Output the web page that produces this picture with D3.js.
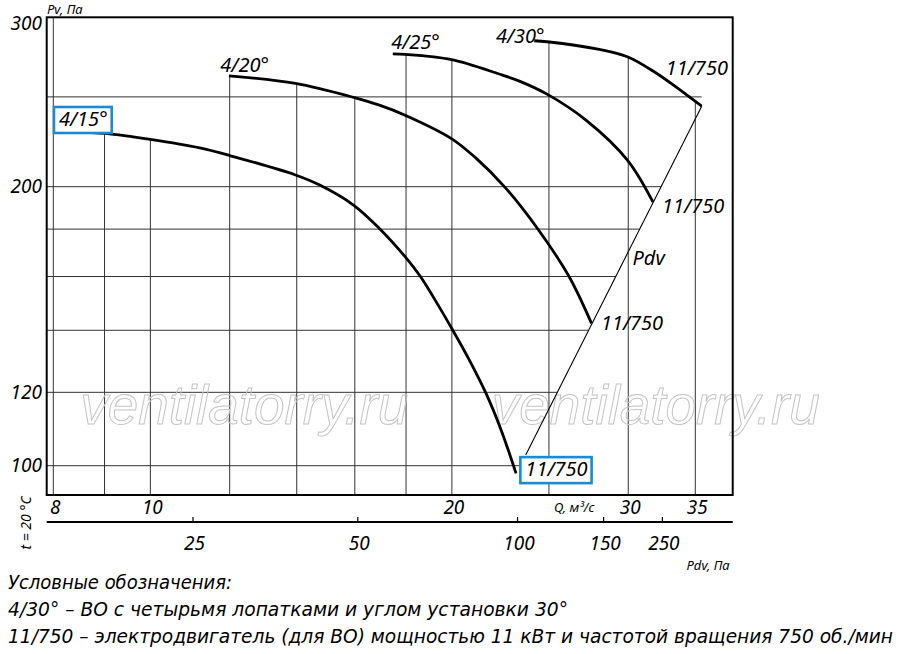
<!DOCTYPE html>
<html><head><meta charset="utf-8">
<script src="https://cdn.jsdelivr.net/npm/d3@7"></script>
<style>
body{margin:0;background:#fff}
svg{display:block}
.lbl{font-family:"Noto Sans","Open Sans",sans-serif;font-style:italic;fill:#000}
.leg{font-family:"Liberation Sans Narrow","Arial Narrow","DejaVu Sans Condensed",sans-serif;font-style:italic;fill:#000}
</style></head>
<body>
<svg id="c" width="900" height="654"></svg>
<script>
// ---------- data ----------
const curveNames = ["4/15°", "4/20°", "4/25°", "4/30°"];
const motorLabel = "11/750";
const q415 = [8.37, 9.02, 10.0, 11.2, 12.0, 13.96, 14.76, 15.95, 16.93, 17.96, 18.59, 19.14, 19.99, 20.82, 21.64, 22.41, 23.18];
const p415 = [229.4, 228.3, 224.9, 220.2, 216.1, 205.9, 200.8, 191.1, 180.3, 168.1, 160.2, 152.4, 140.7, 130.0, 119.6, 109.1, 98.1];
const q420 = [11.98, 13.96, 15.95, 16.93, 17.96, 19.98, 21.14, 22.60, 24.41, 26.19, 27.57];
const p420 = [263.4, 258.5, 249.7, 244.9, 238.9, 225.4, 214.7, 199.7, 179.6, 159.9, 142.4];
const q425 = [17.46, 17.96, 19.99, 22.30, 23.36, 24.89, 27.22, 29.94, 31.76];
const p425 = [278.2, 277.9, 274.3, 264.6, 260.0, 251.7, 236.0, 213.7, 192.5];
const q430 = [24.17, 24.89, 28.07, 29.94, 31.84, 33.47, 35.52];
const p430 = [287.4, 286.7, 281.3, 276.2, 266.1, 256.3, 244.3];
const pdvLineQ = [23.70, 35.52];
const pdvLineP = [102.7, 244.3];
const qGrid = [8, 9, 10, 12, 14, 16, 18, 20, 25, 30, 35];
const qTickLabels = [8, 10, 20, 30, 35];
const pGrid = [100, 120, 140, 160, 180, 200, 250];
const pTickLabels = [100, 120, 200, 300];
const pdvTickLabels = ["25", "50", "100", "150", "250"];
const pdvTickQ = [11.03, 16.11, 23.26, 28.35, 32.45];
const legendLines = [
  "Условные обозначения:",
  "4/30° – ВО с четырьмя лопатками и углом установки 30°",
  "11/750 – электродвигатель (для ВО) мощностью 11 кВт и частотой вращения 750 об./мин"
];
const watermark = "ventilatorry.ru";

// ---------- layout ----------
const svg = d3.select("#c");
const frame = {l: 46.7, r: 732.7, t: 17.3, b: 495};
const x = d3.scaleLog().domain([8, 35]).range([53.3, 695.3]);
const y = d3.scaleLog().domain([100, 200]).range([465.7, 186.7]);

const curves = [[q415, p415], [q420, p420], [q425, p425], [q430, p430]];

function pAt(qs, ps, q) {
  if (q < qs[0] || q > qs[qs.length - 1]) return null;
  for (let i = 0; i < qs.length - 1; i++) {
    if (q >= qs[i] && q <= qs[i + 1]) {
      const t = (Math.log(q) - Math.log(qs[i])) / (Math.log(qs[i + 1]) - Math.log(qs[i]));
      return Math.exp(Math.log(ps[i]) + t * (Math.log(ps[i + 1]) - Math.log(ps[i])));
    }
  }
  return ps[0];
}

const A = {x: x(pdvLineQ[0]), y: y(pdvLineP[0])};
const B = {x: x(pdvLineQ[1]), y: y(pdvLineP[1])};
function pdvXAt(py) {
  const xx = A.x + (py - A.y) * (B.x - A.x) / (B.y - A.y);
  return Math.min(xx, B.x, frame.r);
}

// ---------- grid ----------
const grid = svg.append("g").attr("stroke", "#333").attr("stroke-width", 1);
qGrid.forEach(q => {
  let best = null;
  curves.forEach(([qs, ps]) => {
    const p = pAt(qs, ps, q);
    if (p !== null && (best === null || p > best)) best = p;
  });
  const top = best === null ? frame.t : y(best) + 0.5;
  grid.append("line").attr("x1", x(q)).attr("x2", x(q)).attr("y1", frame.b).attr("y2", top);
});
pGrid.forEach(p => {
  grid.append("line").attr("x1", frame.l).attr("x2", pdvXAt(y(p))).attr("y1", y(p)).attr("y2", y(p));
});

// ---------- watermark ----------
[[x(8) + 27, 424], [x(20) + 40, 424]].forEach(([wx, wy]) => {
  svg.append("text").attr("x", wx).attr("y", wy)
    .attr("font-family", "Liberation Sans, Arial, sans-serif").attr("font-style", "italic")
    .attr("font-size", 55).attr("fill", "none").attr("stroke", "#c4c4c4").attr("stroke-width", 1)
    .attr("textLength", 328).attr("lengthAdjust", "spacingAndGlyphs")
    .text(watermark);
});

// ---------- frame ----------
svg.append("rect").attr("x", frame.l).attr("y", frame.t)
  .attr("width", frame.r - frame.l).attr("height", frame.b - frame.t)
  .attr("fill", "none").attr("stroke", "#000").attr("stroke-width", 2);

// ---------- curves ----------
const line = d3.line().x(d => x(d[0])).y(d => y(d[1])).curve(d3.curveCatmullRom.alpha(0.5));
curves.forEach(([qs, ps]) => {
  svg.append("path").attr("d", line(qs.map((q, i) => [q, ps[i]])))
    .attr("fill", "none").attr("stroke", "#000").attr("stroke-width", 2.8);
});
svg.append("line").attr("x1", A.x).attr("y1", A.y).attr("x2", B.x).attr("y2", B.y)
  .attr("stroke", "#000").attr("stroke-width", 1.1);

// ---------- axes labels ----------
pTickLabels.forEach(p => {
  svg.append("text").attr("class", "lbl").attr("x", 42).attr("y", y(p) + 6.5)
    .attr("text-anchor", "end").attr("font-size", 19).text(p);
});
qTickLabels.forEach(q => {
  svg.append("text").attr("class", "lbl").attr("x", x(q) + 2).attr("y", frame.b + 18.5)
    .attr("text-anchor", "middle").attr("font-size", 19).text(q);
});
svg.append("text").attr("class", "lbl").attr("x", 47).attr("y", 13.5).attr("font-size", 13).text("Pv, Па");
svg.append("text").attr("class", "lbl").attr("x", x(25) + 5).attr("y", frame.b + 16.5).attr("font-size", 13).text("Q, м³/с");

// second axis (Pdv)
const axY = 522;
svg.append("line").attr("x1", frame.l).attr("x2", frame.r).attr("y1", axY).attr("y2", axY)
  .attr("stroke", "#000").attr("stroke-width", 2);
pdvTickQ.forEach((q, i) => {
  svg.append("line").attr("x1", x(q)).attr("x2", x(q)).attr("y1", axY - 5).attr("y2", axY)
    .attr("stroke", "#000").attr("stroke-width", 1.2);
  svg.append("text").attr("class", "lbl").attr("x", x(q) + 1.5).attr("y", axY + 28)
    .attr("text-anchor", "middle").attr("font-size", 19).text(pdvTickLabels[i]);
});
svg.append("text").attr("class", "lbl").attr("x", frame.r - 3).attr("y", 569.5)
  .attr("text-anchor", "end").attr("font-size", 13).text("Pdv, Па");
svg.append("text").attr("class", "lbl").attr("transform", "translate(31,523) rotate(-90)")
  .attr("text-anchor", "middle").attr("font-size", 14).text("t = 20 °C");

// ---------- curve labels ----------
const startOff = [[-14, -5.5], [-8.6, -4.2], [-1.6, -4.7], [-38.3, 2]];
const endOff = [[9.3, 2.7], [9.4, 6.7], [9, 11], [-36, -31]];
const boxed = {start: 0, end: 0};
curves.forEach(([qs, ps], i) => {
  const sx = x(qs[0]), sy = y(ps[0]);
  const ex = x(qs[qs.length - 1]), ey = y(ps[ps.length - 1]);
  const t1 = svg.append("text").attr("class", "lbl").attr("x", sx + startOff[i][0]).attr("y", sy + startOff[i][1])
    .attr("font-size", 20).text(curveNames[i]);
  const t2 = svg.append("text").attr("class", "lbl").attr("x", ex + endOff[i][0]).attr("y", ey + endOff[i][1])
    .attr("font-size", 20).text(motorLabel);
  [[t1, i === boxed.start], [t2, i === boxed.end]].forEach(([t, isBoxed]) => {
    if (!isBoxed) return;
    const bb = t.node().getBBox();
    svg.insert("rect", () => t.node())
      .attr("x", bb.x - 5).attr("y", bb.y + 2).attr("width", bb.width + 9).attr("height", bb.height - 1)
      .attr("fill", "#fff").attr("stroke", "#1a8ad4").attr("stroke-width", 2.6);
  });
});
svg.append("text").attr("class", "lbl").attr("x", A.x + 0.55 * (B.x - A.x) + 10).attr("y", 265)
  .attr("font-size", 20).text("Pdv");

// ---------- legend ----------
const legW = [224, 560, 885];
const legY = [588.7, 616, 643.3];
legendLines.forEach((s, i) => {
  svg.append("text").attr("class", "leg").attr("x", 8).attr("y", legY[i]).attr("font-size", 19)
    .attr("textLength", legW[i]).attr("lengthAdjust", "spacingAndGlyphs").text(s);
});
</script>
</body></html>
